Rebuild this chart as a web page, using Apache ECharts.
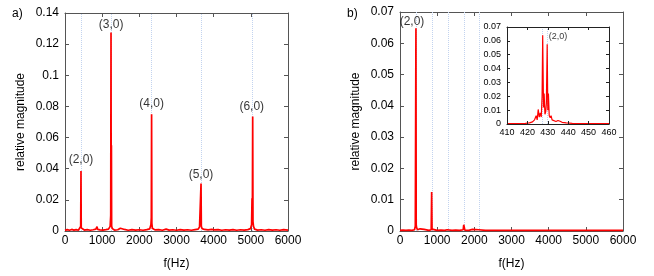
<!DOCTYPE html>
<html>
<head>
<meta charset="utf-8">
<script src="https://cdn.jsdelivr.net/npm/echarts@6/dist/echarts.min.js"></script>
<style>html,body{margin:0;padding:0;background:#fff}#c{width:654px;height:276px}</style>
</head>
<body>
<div id="c"></div>
<script>
// ---- Panel a) spectrum ----
const aFreq = [0,60,120,180,240,300,360,405,422,430,437,455,520,600,680,760,830,862,878,895,940,1020,1100,1170,1215,1230,1238,1244,1249,1255,1275,1330,1420,1490,1520,1600,1700,1800,1900,2000,2100,2200,2280,2312,2322,2330,2337,2350,2420,2520,2620,2720,2800,2900,3000,3100,3200,3300,3400,3500,3580,3620,3645,3660,3668,3690,3750,3850,3950,3980,4020,4120,4220,4320,4420,4520,4620,4720,4820,4920,4990,5020,5032,5040,5050,5058,5072,5100,5180,5280,5380,5480,5580,5680,5780,5880,6000];
const aMag  = [0.0004,0.0009,0.0005,0.0010,0.0006,0.0009,0.0005,0.0012,0.0030,0.0385,0.0020,0.0008,0.0006,0.0009,0.0005,0.0008,0.0012,0.0028,0.0010,0.0018,0.0007,0.0006,0.0009,0.0012,0.0030,0.0100,0.1275,0.0040,0.0550,0.0030,0.0015,0.0006,0.0008,0.0018,0.0008,0.0010,0.0005,0.0009,0.0006,0.0008,0.0005,0.0009,0.0014,0.0040,0.0085,0.0750,0.0050,0.0018,0.0007,0.0009,0.0005,0.0012,0.0006,0.0008,0.0005,0.0009,0.0006,0.0008,0.0005,0.0009,0.0012,0.0025,0.0020,0.0305,0.0030,0.0015,0.0010,0.0007,0.0010,0.0018,0.0007,0.0009,0.0005,0.0008,0.0006,0.0009,0.0005,0.0008,0.0006,0.0009,0.0015,0.0040,0.0210,0.0050,0.0735,0.0060,0.0030,0.0012,0.0006,0.0008,0.0005,0.0009,0.0006,0.0008,0.0005,0.0009,0.0006];
const aGuides = [430,1240,2330,3660,5050];
const aLabels = ['(2,0)','(3,0)','(4,0)','(5,0)','(6,0)'];
const aLabelX = [430,1240,2330,3660,5025];
const aLabelY = [0.0456,0.1323,0.0816,0.0360,0.0796];

// ---- Panel b) spectrum ----
const bFreq = [0,80,160,240,320,390,412,420,429,436,445,470,540,570,650,700,780,840,852,862,900,1000,1100,1200,1270,1285,1300,1320,1400,1500,1600,1700,1715,1728,1745,1850,1950,2000,2120,2135,2150,2170,2300,2600,3000,3500,4000,4500,5000,5500,6000];
const bMag  = [0.0002,0.0003,0.0002,0.0003,0.0002,0.0004,0.0015,0.0020,0.0648,0.0020,0.0012,0.0004,0.0007,0.0003,0.0005,0.0003,0.0002,0.0004,0.0125,0.0006,0.0003,0.0002,0.0003,0.0002,0.0004,0.0010,0.0011,0.0003,0.0002,0.0003,0.0002,0.0004,0.0020,0.0018,0.0003,0.0002,0.0005,0.0002,0.0004,0.0010,0.0009,0.0003,0.0002,0.0002,0.0002,0.0002,0.0002,0.0002,0.0002,0.0002,0.0002];
const bGuides = [430,855,1290,1720,2140];
const bLabels = ['(2,0)'];
const bLabelX = [323];
const bLabelY = [0.0669];

// ---- Inset of panel b) ----
const iFreq = [410,413,416,419,421,422.5,423.5,424.3,424.8,425.3,425.8,426.3,426.8,427.2,427.5,427.9,428.2,428.6,429.0,429.3,429.7,430.0,430.3,430.7,431.2,431.6,432.1,433,434,435,436,437,439,442,446,450,455,460];
const iMag  = [0.0002,0.0003,0.0003,0.0005,0.0008,0.0015,0.0030,0.0060,0.0030,0.0105,0.0050,0.0080,0.0050,0.0200,0.0640,0.0120,0.0220,0.0070,0.0090,0.0150,0.0575,0.0100,0.0220,0.0060,0.0045,0.0060,0.0030,0.0025,0.0018,0.0025,0.0020,0.0012,0.0008,0.0005,0.0003,0.0002,0.0002,0.0002];
const iGuides = [427.5,429.7];
const iLabels = ['(2,0)'];
const iLabelX = [435];
const iLabelY = [0.0628];

const FONT = 'Liberation Sans';
const RED = '#ff0000';
const GUIDE = '#c2d3ef';

function pairs(xs, ys){ return xs.map((x,i)=>[x, ys[i]]); }
function labelData(xs, ys, ts){ return xs.map((x,i)=>[x, ys[i], ts[i]]); }
const fmtY = v => String(+v.toFixed(3));
const fmtX = v => String(v);

function xAx(grid, min, max, interval, pos, labels, fs, color, tickLen, name){
  return {
    type:'value', gridIndex:grid, min, max, interval, position:pos,
    axisLine:{show:true, onZero:false, lineStyle:{color, width:1}},
    axisTick:{show:true, inside:true, length:tickLen, lineStyle:{color}},
    axisLabel:{show:labels, color:'#000', fontFamily:FONT, fontSize:fs, margin:4, formatter:fmtX},
    splitLine:{show:false},
    name: name || '', nameLocation:'middle', nameGap:27,
    nameTextStyle:{color:'#000', fontFamily:FONT, fontSize:12}
  };
}
function yAx(grid, min, max, interval, pos, labels, fs, color, tickLen, name, gap){
  return {
    type:'value', gridIndex:grid, min, max, interval, position:pos,
    axisLine:{show:true, onZero:false, lineStyle:{color, width:1}},
    axisTick:{show:true, inside:true, length:tickLen, lineStyle:{color}},
    axisLabel:{show:labels, color:'#000', fontFamily:FONT, fontSize:fs, margin:6, formatter:fmtY},
    splitLine:{show:false},
    name: name || '', nameLocation:'middle', nameGap:gap || 40, nameRotate:90,
    nameTextStyle:{color:'#000', fontFamily:FONT, fontSize:12}
  };
}

function guideSeries(xi, yi, vals, z){
  return {
    type:'line', xAxisIndex:xi, yAxisIndex:yi, data:[], z:z, silent:true,
    markLine:{
      z:z, silent:true, symbol:'none', label:{show:false}, animation:false,
      lineStyle:{type:'dotted', color:GUIDE, width:1},
      data: vals.map(v=>({xAxis:v}))
    }
  };
}
function labelSeries(xi, yi, data, fs, z){
  return {
    type:'scatter', xAxisIndex:xi, yAxisIndex:yi, data, symbolSize:1,
    itemStyle:{color:'rgba(0,0,0,0)'}, silent:true, z:z,
    label:{show:true, position:'inside', formatter:p=>p.value[2], color:'#000', fontFamily:FONT, fontSize:fs}
  };
}

const FRAME = '#555';
const option = {
  animation:false,
  backgroundColor:'#fff',
  grid:[
    {left:65, top:13, width:223, height:218},
    {left:400, top:12, width:223, height:219},
    {left:507, top:27, width:102, height:97, show:true, backgroundColor:'#fff', borderWidth:0, z:3}
  ],
  xAxis:[
    xAx(0,0,6000,1000,'bottom',true,12,FRAME,4,'f(Hz)'),
    xAx(0,0,6000,1000,'top',false,12,FRAME,4),
    xAx(1,0,6000,1000,'bottom',true,12,FRAME,4,'f(Hz)'),
    xAx(1,0,6000,1000,'top',false,12,FRAME,4),
    Object.assign(xAx(2,410,460,10,'bottom',true,9,'#222',3), {z:8}),
    Object.assign(xAx(2,410,460,10,'top',false,9,'#222',3), {z:8})
  ],
  yAxis:[
    yAx(0,0,0.14,0.02,'left',true,12,FRAME,4,'relative magnitude',38),
    yAx(0,0,0.14,0.02,'right',false,12,FRAME,4),
    yAx(1,0,0.07,0.01,'left',true,12,FRAME,4,'relative magnitude',38),
    yAx(1,0,0.07,0.01,'right',false,12,FRAME,4),
    Object.assign(yAx(2,0,0.07,0.01,'left',true,9,'#222',3), {z:8}),
    Object.assign(yAx(2,0,0.07,0.01,'right',false,9,'#222',3), {z:8})
  ],
  series:[
    guideSeries(0,0,aGuides,1),
    {type:'line', xAxisIndex:0, yAxisIndex:0, data:pairs(aFreq,aMag), symbol:'none',
     lineStyle:{color:RED, width:1.7}, z:2},
    labelSeries(0,0,labelData(aLabelX,aLabelY,aLabels),12,3),
    guideSeries(2,2,bGuides,1),
    {type:'line', xAxisIndex:2, yAxisIndex:2, data:pairs(bFreq,bMag), symbol:'none',
     lineStyle:{color:RED, width:1.7}, z:2},
    labelSeries(2,2,labelData(bLabelX,bLabelY,bLabels),12,3),
    guideSeries(4,4,iGuides,5),
    {type:'line', xAxisIndex:4, yAxisIndex:4, data:pairs(iFreq,iMag), symbol:'none',
     lineStyle:{color:RED, width:1.2}, z:6},
    labelSeries(4,4,labelData(iLabelX,iLabelY,iLabels),9,7)
  ],
  graphic:[
    {type:'text', left:12, top:8, style:{text:'a)', fill:'#000', font:'12px "Liberation Sans"'}},
    {type:'text', left:347, top:8, style:{text:'b)', fill:'#000', font:'12px "Liberation Sans"'}}
  ]
};
const chart = echarts.init(document.getElementById('c'), null, {renderer:'canvas'});
chart.setOption(option);
</script>
</body>
</html>
